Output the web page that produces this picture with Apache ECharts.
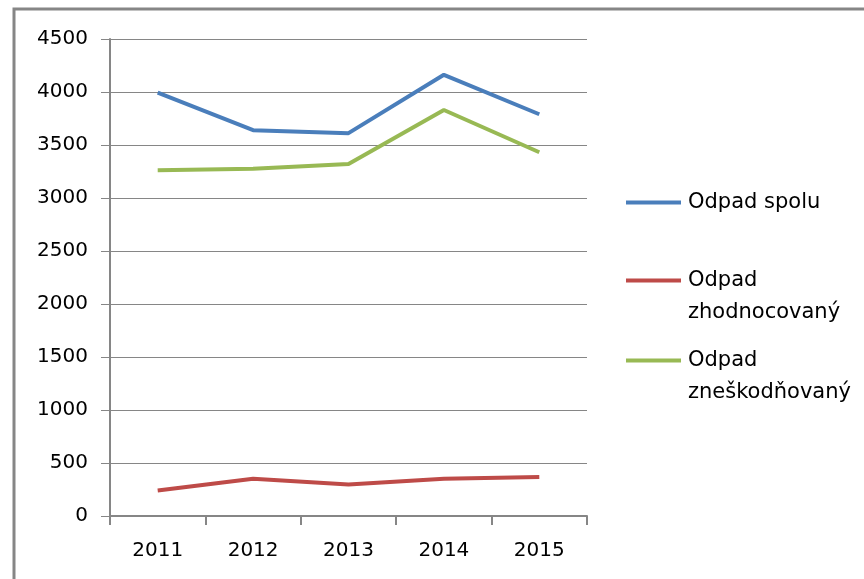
<!DOCTYPE html>
<html>
<head>
<meta charset="utf-8">
<script src="https://cdn.jsdelivr.net/npm/echarts@6/dist/echarts.min.js"></script>
<style>html,body{margin:0;padding:0;background:#fff;}#c{width:864px;height:579px;}</style>
</head>
<body>
<div id="c"></div>
<script>
const years = ['2011', '2012', '2013', '2014', '2015'];
const spolu = [3995, 3640, 3612, 4162, 3790];
const zhodnocovany = [240, 352, 297, 352, 368];
const zneskodnovany = [3262, 3276, 3320, 3830, 3432];
const yTicks = { min: 0, max: 4500, interval: 500 };

const seriesNames = ['Odpad spolu', 'Odpad zhodnocovaný', 'Odpad zneškodňovaný'];
const colors = ['#4A7EBB', '#BE4B48', '#98B954'];
const FONT = 'DejaVu Sans';
const GRAY = '#868686';

const chart = echarts.init(document.getElementById('c'), null, { renderer: 'canvas' });

function legendAt(name, top, firstLine) {
  return {
    data: [name],
    orient: 'vertical',
    left: 626,
    top: top,
    itemWidth: 55,
    itemHeight: 14,
    itemGap: 0,
    padding: 0,
    icon: 'path://M0,6 L55,6 L55,10 L0,10 Z',
    formatter: function () { return firstLine; },
    textStyle: { fontFamily: FONT, fontSize: 21, color: '#000', padding: [0, 0, 0, 2] },
    selectedMode: false
  };
}

chart.setOption({
  animation: false,
  backgroundColor: '#fff',
  color: colors,
  grid: { left: 110, right: 277, top: 39, bottom: 63, containLabel: false },
  xAxis: {
    type: 'category',
    data: years,
    boundaryGap: true,
    axisLine: { show: true, lineStyle: { color: GRAY, width: 2 } },
    axisTick: { show: true, length: 9, lineStyle: { color: GRAY, width: 2 }, alignWithLabel: false },
    axisLabel: { margin: 25, fontFamily: FONT, fontSize: 20, color: '#000' },
    splitLine: { show: false }
  },
  yAxis: {
    type: 'value',
    min: yTicks.min,
    max: yTicks.max,
    interval: yTicks.interval,
    axisLine: { show: true, lineStyle: { color: GRAY, width: 2 } },
    axisTick: { show: true, length: 9, lineStyle: { color: GRAY, width: 1 } },
    axisLabel: { margin: 22, fontFamily: FONT, fontSize: 20, color: '#000', formatter: function (v) { return String(v); } },
    splitLine: { show: true, lineStyle: { color: GRAY, width: 1 } }
  },
  legend: [
    legendAt(seriesNames[0], 192, 'Odpad spolu'),
    legendAt(seriesNames[1], 270, 'Odpad'),
    legendAt(seriesNames[2], 350, 'Odpad')
  ],
  graphic: [
    { type: 'rect', shape: { x: 14, y: 9, width: 900, height: 620 }, style: { fill: 'none', stroke: GRAY, lineWidth: 3 }, z: 100 },
    { type: 'text', left: 688, top: 302, style: { text: 'zhodnocovaný', font: '21px "DejaVu Sans"', fill: '#000' } },
    { type: 'text', left: 688, top: 382, style: { text: 'zneškodňovaný', font: '21px "DejaVu Sans"', fill: '#000' } }
  ],
  series: [
    { name: seriesNames[0], type: 'line', data: spolu, showSymbol: false, symbol: 'none', lineStyle: { width: 4, color: colors[0] } },
    { name: seriesNames[1], type: 'line', data: zhodnocovany, showSymbol: false, symbol: 'none', lineStyle: { width: 4, color: colors[1] } },
    { name: seriesNames[2], type: 'line', data: zneskodnovany, showSymbol: false, symbol: 'none', lineStyle: { width: 4, color: colors[2] } }
  ]
});
</script>
</body>
</html>
